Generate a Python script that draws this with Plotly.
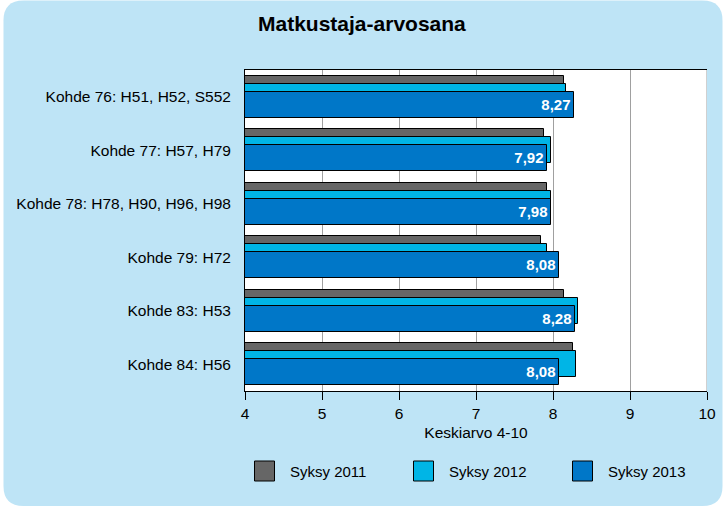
import plotly.graph_objects as go

categories = ["Kohde 76: H51, H52, S552", "Kohde 77: H57, H79",
              "Kohde 78: H78, H90, H96, H98", "Kohde 79: H72",
              "Kohde 83: H53", "Kohde 84: H56"]
series_names = ["Syksy 2011", "Syksy 2012", "Syksy 2013"]
values_2011 = [8.14, 7.88, 7.92, 7.84, 8.14, 8.26]
values_2012 = [8.17, 7.98, 7.97, 7.92, 8.33, 8.30]
values_2013 = [8.27, 7.92, 7.98, 8.08, 8.28, 8.08]
x_ticks = [4, 5, 6, 7, 8, 9, 10]

series_values = [values_2011, values_2012, values_2013]
colors = ["#666666", "#00B5E6", "#0077C8"]
offsets = [-0.39, -0.24, -0.09]
BAR_W = 0.485

W, H = 728, 508
ML, MR, MT, MB = 245, 21, 70, 117
PW, PH = W - ML - MR, H - MT - MB
FONT = "Liberation Sans, Arial, sans-serif"
BG = "#BEE4F6"


def pp(px, py):
    return (px - ML) / PW, (H - MB - py) / PH


def rounded_path(x0, y0, x1, y1, r):
    pts = [("M", [(x0 + r, y0)]), ("L", [(x1 - r, y0)]), ("Q", [(x1, y0), (x1, y0 + r)]),
           ("L", [(x1, y1 - r)]), ("Q", [(x1, y1), (x1 - r, y1)]), ("L", [(x0 + r, y1)]),
           ("Q", [(x0, y1), (x0, y1 - r)]), ("L", [(x0, y0 + r)]), ("Q", [(x0, y0), (x0 + r, y0)])]
    s = ""
    for cmd, coords in pts:
        s += cmd + " ".join("%.5f,%.5f" % pp(a, b) for a, b in coords) + " "
    return s + "Z"


fig = go.Figure()
for i, (name, vals) in enumerate(zip(series_names, series_values)):
    kw = {}
    if i == 2:
        kw = dict(texttemplate="<b>%{x:.2f}</b>", textposition="inside",
                  insidetextanchor="end",
                  textfont=dict(color="white", size=15, family=FONT))
    fig.add_trace(go.Bar(
        y=categories, x=vals, orientation="h", name=name,
        marker=dict(color=colors[i], line=dict(color="black", width=1)),
        width=BAR_W, offset=offsets[i], showlegend=False, cliponaxis=False, **kw))

shapes = [
    dict(type="path", xref="paper", yref="paper", layer="below",
         path=rounded_path(3.5, 0.5, 722.5, 506, 20), fillcolor=BG, line=dict(width=0)),
    dict(type="rect", xref="paper", yref="paper", layer="below", x0=0, x1=1, y0=0, y1=1,
         fillcolor="white", line=dict(width=0)),
    dict(type="line", xref="x", yref="paper", x0=10, x1=10, y0=0, y1=1, layer="below",
         line=dict(color="#A0A0A0", width=1)),
]
annotations = [
    dict(text="<b>Matkustaja-arvosana</b>", xref="paper", yref="paper",
         x=pp(361.5, 0)[0], y=pp(0, 23)[1], showarrow=False,
         font=dict(size=21, family=FONT, color="black"), xanchor="center", yanchor="middle"),
]
# legend drawn manually with 20px keys
leg_x = [254.5, 413.5, 572.5]
for i, name in enumerate(series_names):
    xa, ya = pp(leg_x[i], 461)
    xb, yb = pp(leg_x[i] + 20, 481)
    shapes.append(dict(type="rect", xref="paper", yref="paper", x0=xa, x1=xb, y0=yb, y1=ya,
                       fillcolor=colors[i], line=dict(color="black", width=1)))
    tx, ty = pp(leg_x[i] + 33, 471)
    annotations.append(dict(text=name, xref="paper", yref="paper", x=tx, y=ty,
                            showarrow=False, xanchor="left", yanchor="middle",
                            font=dict(size=15, family=FONT, color="black")))

fig.update_layout(
    width=W, height=H, margin=dict(l=ML, r=MR, t=MT, b=MB),
    paper_bgcolor="white", plot_bgcolor="rgba(0,0,0,0)",
    barmode="overlay", separators=", ", bargap=0,
    font=dict(family=FONT, size=15.5, color="black"),
    shapes=shapes, annotations=annotations, showlegend=False,
    xaxis=dict(range=[4, 10], tickvals=x_ticks, showgrid=True, gridcolor="#A0A0A0",
               gridwidth=1, showline=True, linecolor="black", linewidth=1, mirror=True,
               ticks="outside", ticklen=8, tickcolor="black", zeroline=False,
               tickfont=dict(size=15.5),
               title=dict(text="Keskiarvo 4-10", font=dict(size=15.5), standoff=6)),
    yaxis=dict(type="category", range=[5.5, -0.5], showgrid=False, showline=True,
               linecolor="black", linewidth=1, ticks="outside", ticklen=10,
               tickcolor="rgba(0,0,0,0)", tickfont=dict(size=15.5)),
)
fig.write_html("out.html")
